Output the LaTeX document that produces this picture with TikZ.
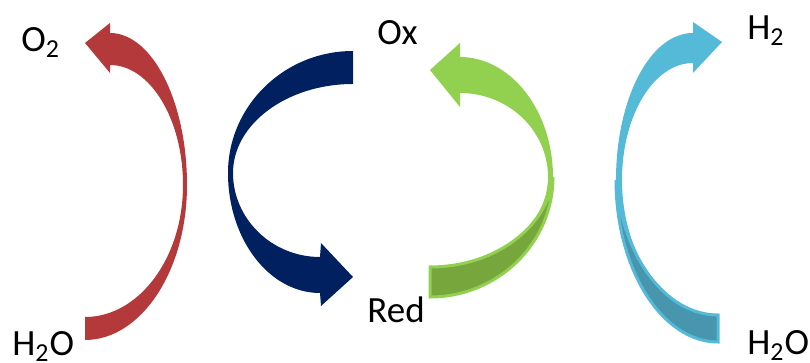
\documentclass[tikz,border=0pt]{standalone}
\usepackage{fontspec}
\setmainfont{Carlito}
\definecolor{redarrow}{HTML}{B3393A}
\definecolor{bluearrow}{HTML}{002060}
\definecolor{greenarrow}{HTML}{92D050}
\definecolor{greendark}{HTML}{76A63C}
\definecolor{cyanarrow}{HTML}{55B9D8}
\definecolor{cyandark}{HTML}{4896AE}
\begin{document}
\begin{tikzpicture}[x=.5pt, y=-.5pt, font=\fontsize{18.5}{22}\selectfont,
    species/.style={anchor=base west, inner sep=0pt}]
     \useasboundingbox (0,0) rectangle (810,363);
     % water -> oxygen
     \fill[redarrow](85,317)--(85,340) .. controls (141,340) and (187,271) .. (187,185)
         .. controls (187,101) and (152,33) .. (110,33)--(110,23)--(85,43)--(110,73)--(110,65)
         .. controls (150,65) and (183,119) .. (183,185)
         .. controls (183,258) and (139,317) .. (85,317)--cycle;
     % ox -> red
     \fill[bluearrow](353,51) .. controls (284,51) and (228,106) .. (228,173)
         .. controls (228,239) and (269,293) .. (320,293)--(321,306)--(353,277)--(321,243)--(320,257)
         .. controls (272,257) and (233,219) .. (233,173)
         .. controls (233,124) and (287,84) .. (353,84)--cycle;
     % red -> ox
     \fill[greenarrow](430,267)--(430,297) .. controls (498,297) and (553,243) .. (553,177)
         .. controls (553,111) and (511,57) .. (460,57)--(460,43)--(430,70)--(460,107)--(460,93)
         .. controls (509,93) and (548,131) .. (548,177)
         .. controls (548,227) and (495,267) .. (430,267)--cycle;
     \filldraw[fill=greendark, draw=greenarrow, line width=1.5](430,267)--(430,297)
         .. controls (498,297) and (553,243) .. (553,177)
         .. controls (548,227) and (495,267) .. (430,267)--cycle;
     % water -> hydrogen
     \fill[cyanarrow](718,315)--(718,342) .. controls (662,342) and (616,269) .. (616,180)
         .. controls (616,99) and (650,33) .. (693,33)--(693,22)--(722,42)--(693,73)--(693,63)
         .. controls (654,63) and (622,115) .. (622,180)
         .. controls (622,255) and (665,315) .. (718,315)--cycle;
     \filldraw[fill=cyandark, draw=cyanarrow, line width=1.5](718,315)--(718,342)
         .. controls (662,342) and (616,269) .. (616,180)
         .. controls (622,255) and (665,315) .. (718,315)--cycle;
     \foreach \pos/\name/\txt in {{21,52}/oxygen/O\textsubscript{2}, {12,356}/waterL/H\textsubscript{2}O,
         {377,45}/ox/Ox, {367,323}/red/Red, {747,40}/hydrogen/H\textsubscript{2},
         {747,355}/waterR/H\textsubscript{2}O}
     {
         \node[species](\name) at (\pos) {\txt};
     }
 \end{tikzpicture}
\end{document}
